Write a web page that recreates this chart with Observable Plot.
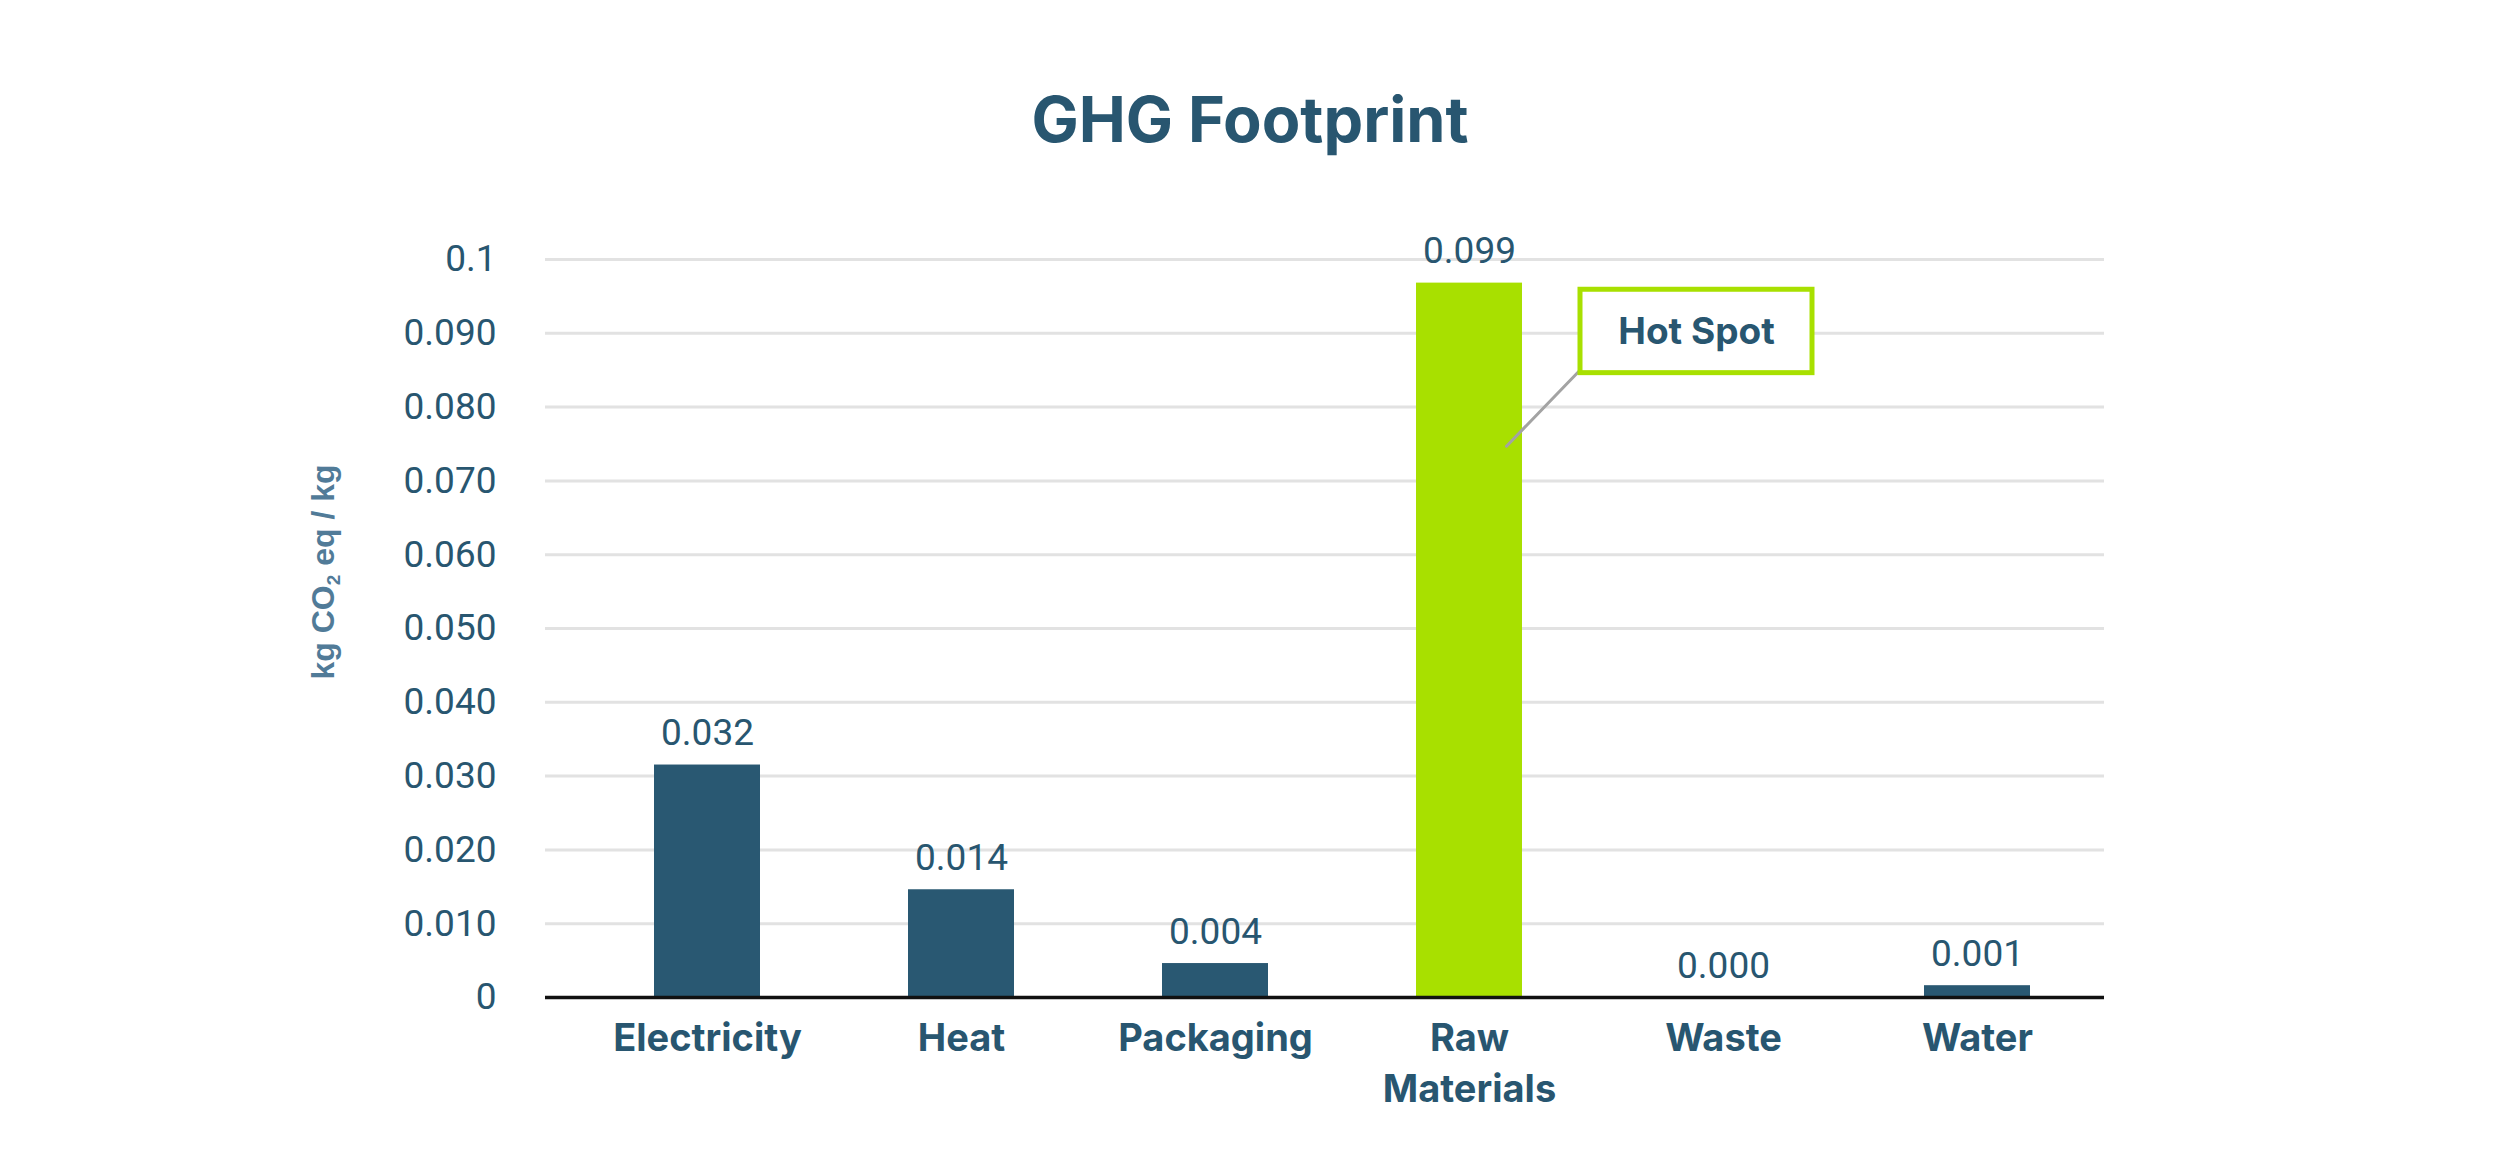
<!DOCTYPE html>
<html>
<head>
<meta charset="utf-8">
<script src="https://cdn.jsdelivr.net/npm/d3@7"></script>
<script src="https://cdn.jsdelivr.net/npm/@observablehq/plot@0.6"></script>
<style>
  html, body { margin: 0; padding: 0; background: #fff; }
  #wrap { position: relative; width: 2500px; height: 1153px; overflow: hidden; }
  #title { position: absolute; left: 0; top: 0; width: 2500px; height: 200px; text-align: center;
           font-family: Inter, "Open Sans", sans-serif; font-weight: 700; font-size: 63px;
           line-height: 63px; color: #285670; padding-top: 88px; box-sizing: border-box; }
  #chart { position: absolute; left: 0; top: 200px; }
  #ylabel { position: absolute; left: 325px; top: 572px; transform: translate(-50%, -50%) rotate(-90deg);
            white-space: nowrap; font-family: "Liberation Sans", Arial, sans-serif; font-weight: 700;
            font-size: 32px; color: #517b98; }
  #ylabel sub { font-size: 19px; vertical-align: -6px; }
</style>
</head>
<body>
<div id="wrap">
  <div id="title">GHG Footprint</div>
  <div id="chart"></div>
  <div id="ylabel">kg CO<sub>2</sub> eq / kg</div>
</div>
<script>
const categories = ["Electricity", "Heat", "Packaging", "Raw Materials", "Waste", "Water"];
const values = [0.0315, 0.0146, 0.0046, 0.0968, 0.0000, 0.0016];
const valueLabels = ["0.032", "0.014", "0.004", "0.099", "0.000", "0.001"];
const hotSpot = ["Raw Materials"];
const categoryLabels = ["Electricity", "Heat", "Packaging", "Raw\nMaterials", "Waste", "Water"];
const yTicks = [0, 0.01, 0.02, 0.03, 0.04, 0.05, 0.06, 0.07, 0.08, 0.09, 0.1];
const yTickLabels = ["0", "0.010", "0.020", "0.030", "0.040", "0.050", "0.060", "0.070", "0.080", "0.090", "0.1"];
const annotation = [{category: "Raw Materials", text: "Hot Spot", pointY: 0.0747, boxTop: 0.0959, boxBottom: 0.0846, textY: 0.0902}];

const data = categories.map((c, i) => ({
  category: c, value: values[i], label: valueLabels[i], hot: hotSpot.includes(c)
}));

const navy = "#295872";
const green = "#a8e000";
const textColor = "#285670";

const plot = Plot.plot({
  width: 2500,
  height: 953,
  marginTop: 59,
  marginBottom: 156,
  marginLeft: 545,
  marginRight: 396,
  style: {background: "#fff", fontFamily: "Roboto, sans-serif"},
  x: {domain: categories, paddingInner: 0.583, paddingOuter: 0.2915, insetLeft: 35, insetRight: 0, label: null},
  y: {domain: [0, 0.1], label: null},
  marks: [
    Plot.ruleY(yTicks.filter(d => d > 0), {stroke: "#e2e2e2", strokeWidth: 3}),
    Plot.barY(data, {x: "category", y: "value", fill: d => d.hot ? green : navy}),
    Plot.ruleY([0], {stroke: "#111", strokeWidth: 3.5}),
    Plot.text(data, {x: "category", y: "value", text: "label", dy: -20, lineAnchor: "bottom",
      fontSize: 37, fill: textColor, fontFamily: "Roboto"}),
    Plot.axisY({ticks: yTicks, tickFormat: d => yTickLabels[yTicks.indexOf(d)], tickSize: 0, tickPadding: 49,
      fontSize: 37, fill: textColor, fontFamily: "Roboto", label: null}),
    Plot.axisX({tickSize: 0, tickPadding: 17, fontSize: 38, fontWeight: 700, fill: textColor,
      fontFamily: "Inter, 'Open Sans', sans-serif", lineHeight: 1.34,
      tickFormat: d => categoryLabels[categories.indexOf(d)], label: null}),
    // Hot spot leader line
    Plot.vector(annotation, {x: "category", y: "pointY", dx: 37, length: 105, rotate: 44, anchor: "start",
      stroke: "#a3a3a3", strokeWidth: 3,
      shape: {draw(context, l) { context.moveTo(0, 0); context.lineTo(0, -l); }}}),
    // Hot spot box
    Plot.barY(annotation, {x: "category", y1: "boxBottom", y2: "boxTop", dx: 227, insetLeft: -63, insetRight: -63,
      fill: "#fff", stroke: green, strokeWidth: 5}),
    Plot.text(annotation, {x: "category", y: "textY", text: "text", dx: 227, fontSize: 37, fontWeight: 700,
      fill: textColor, fontFamily: "Inter, 'Open Sans', sans-serif"})
  ]
});
document.getElementById("chart").appendChild(plot);
</script>
</body>
</html>
